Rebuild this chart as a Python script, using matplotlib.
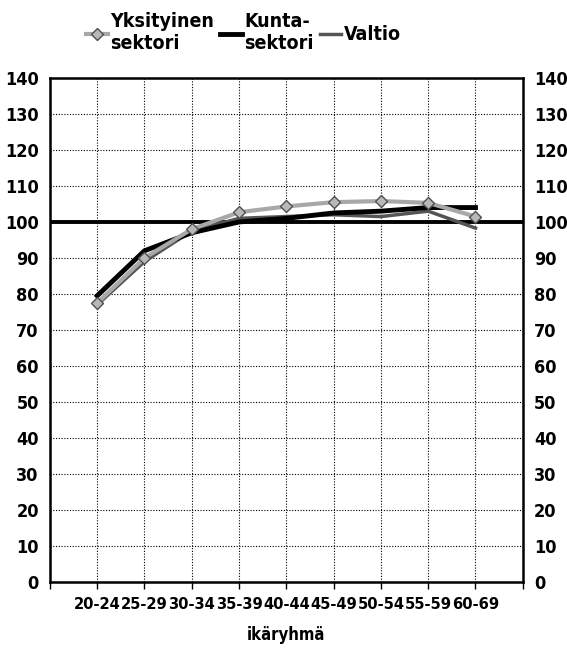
import matplotlib.pyplot as plt

plt.rcParams['font.family'] = ['Liberation Sans Narrow', 'DejaVu Sans']
plt.rcParams['font.stretch'] = 'condensed'

categories = ['20-24', '25-29', '30-34', '35-39', '40-44',
              '45-49', '50-54', '55-59', '60-69']
yksityinen = [77.5, 90, 98, 102.7, 104.3, 105.5, 105.8, 105.3, 101.5]
kunta = [79.5, 92, 97, 100, 101, 102.5, 103, 104, 104]
valtio = [77, 89, 97.5, 101, 101.5, 102, 101.5, 103, 98.3]
labels = ['Yksityinen\nsektori', 'Kunta-\nsektori', 'Valtio']
reference = 100
y_ticks = list(range(0, 141, 10))

fig = plt.figure(figsize=(5.67, 6.49), dpi=100)
ax = fig.add_axes([0.088, 0.103, 0.834, 0.777])

x = range(1, len(categories) + 1)

ax.axhline(reference, color='black', lw=2.8, zorder=2)
ax.plot(x, valtio, color='#555555', lw=2.5, label=labels[2], zorder=3)
ax.plot(x, kunta, color='black', lw=3.5, label=labels[1], zorder=4)
ax.plot(x, yksityinen, color='#a8a8a8', lw=3, marker='D', markersize=6,
        markerfacecolor='#b8b8b8', markeredgecolor='#505050',
        label=labels[0], zorder=5)

ax.set_xlim(0, 10)
ax.set_ylim(0, 140)
ax.set_xticks(range(0, 11))
ax.set_xticklabels([''] + categories + [''], fontsize=11.8, fontweight='bold')
ax.set_yticks(y_ticks)
ax.set_yticklabels([str(t) for t in y_ticks], fontsize=13, fontweight='bold')
ax.tick_params(axis='x', direction='out', length=5, width=1, pad=6)
ax.tick_params(axis='y', length=0, pad=8, labelright=True, right=False)
ax.grid(True, color='black', linestyle=(0, (1, 1.5)), lw=0.8)
ax.set_axisbelow(True)
for s in ax.spines.values():
    s.set_linewidth(1.8)

ax.set_xlabel('ikäryhmä', fontsize=12, fontweight='bold', labelpad=10)

handles, labs = ax.get_legend_handles_labels()
order = [2, 1, 0]
fig.legend([handles[i] for i in order], [labs[i] for i in order],
           loc='upper center', bbox_to_anchor=(0.43, 1.008), ncol=3,
           frameon=False, handlelength=1.1, handletextpad=0.15,
           columnspacing=0.3, prop={'weight': 'bold', 'size': 14,
                                    'stretch': 'condensed'})

fig.savefig('out.png', dpi=100)
